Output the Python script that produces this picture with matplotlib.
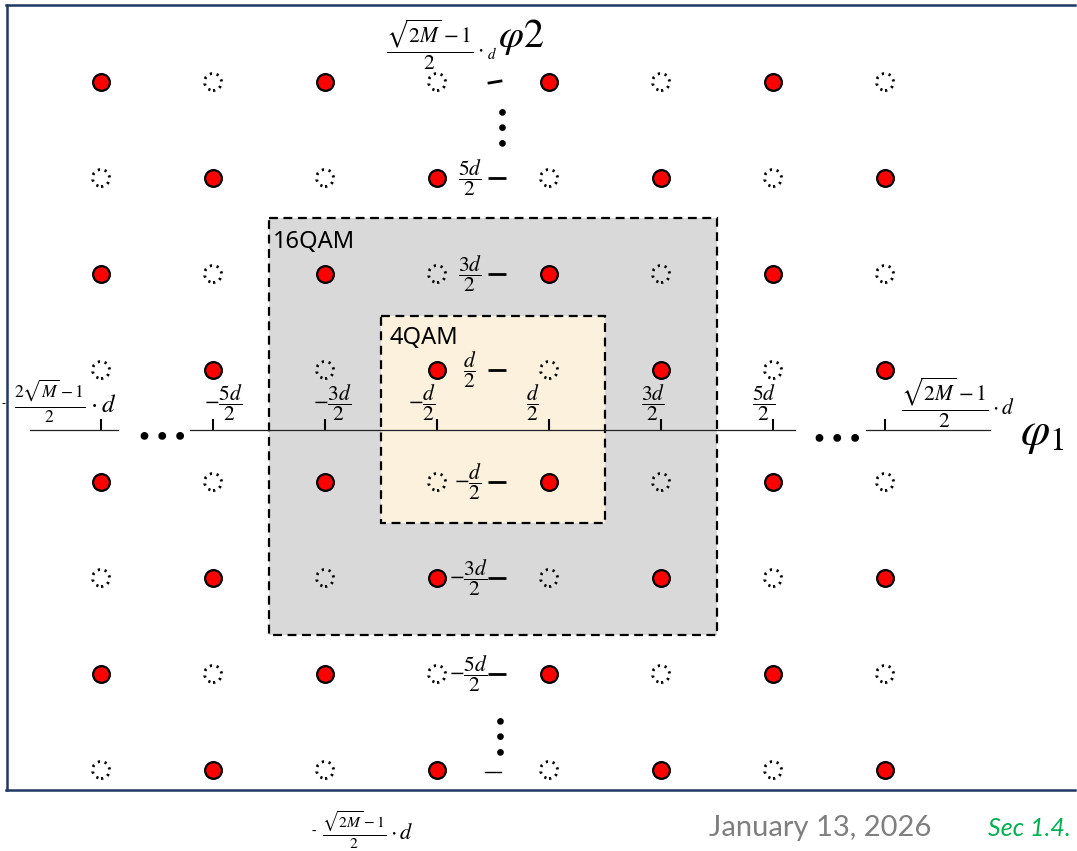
import numpy as np
import matplotlib
matplotlib.use('Agg')
import matplotlib.pyplot as plt
from matplotlib.patches import Rectangle
from matplotlib.transforms import Affine2D, blended_transform_factory

plt.rcParams['font.family'] = ['Noto Sans', 'DejaVu Sans']
plt.rcParams['mathtext.fontset'] = 'stix'

# 星座点电平（单位 d/2）
x_levels = [-7, -5, -3, -1, 1, 3, 5, 7]
y_levels = [7, 5, 3, 1, -1, -3, -5, -7]
# R = 实心红点, o = 虚线空心点（从上到下，从左到右）
pattern = [
    "RoRoRoRo",
    "oRoRoRoR",
    "RoRoRoRo",
    "oRoRoRoR",
    "RoRoRoRo",
    "oRoRoRoR",
    "RoRoRoRo",
    "oRoRoRoR",
]

# 坐标轴上的标签
x_tick_labels = [r'$-\dfrac{5d}{2}$', r'$-\dfrac{3d}{2}$', r'$-\dfrac{d}{2}$',
                 r'$\dfrac{d}{2}$', r'$\dfrac{3d}{2}$', r'$\dfrac{5d}{2}$']
x_tick_levels = [-5, -3, -1, 1, 3, 5]
x_label_shift = [10, 7, -15, -16, -8, -9]   # 标签相对刻度的水平偏移（像素）
y_tick_labels = [r'$\dfrac{5d}{2}$', r'$\dfrac{3d}{2}$', r'$\dfrac{d}{2}$',
                 r'$-\dfrac{d}{2}$', r'$-\dfrac{3d}{2}$', r'$-\dfrac{5d}{2}$']
y_tick_levels = [5, 3, 1, -1, -3, -5]

W, H = 1077, 851
fig = plt.figure(figsize=(W / 100, H / 100), dpi=100)
ax = fig.add_axes([0, 0, 1, 1])
ax.axis('off')


# 纵向在原点附近多留一点空隙
def fwd(y):
    y = np.asarray(y, dtype=float)
    return 48 * y + 8 * np.clip(y, -1, 1)


def inv(u):
    u = np.asarray(u, dtype=float)
    return np.where(np.abs(u) <= 56, u / 56, (u - 8 * np.sign(u)) / 48)


ax.set_yscale('function', functions=(fwd, inv))
ax.set_xlim(-493 / 56, (W - 493) / 56)
ax.set_ylim(float(inv(426 - H)), float(inv(426)))

# 像素坐标（左上角为原点），用于文字和装饰
pix = Affine2D().scale(1 / W, -1 / H).translate(0, 1) + fig.transFigure
bx = blended_transform_factory(ax.transData, pix)
by = blended_transform_factory(pix, ax.transData)

# 外框：上、左、下三条边（右边在画面外）
frame_kw = dict(transform=pix, color='#1f3864', lw=1.8, zorder=1)
ax.plot([6, W - 2], [5, 5], **frame_kw)
ax.plot([7, 7], [5, 790], **frame_kw)
ax.plot([6, W - 2], [790, 790], **frame_kw)

# 16QAM 和 4QAM 区域
ax.add_patch(Rectangle((-4, 218), 8, 417, transform=bx, facecolor='#d9d9d9',
                       edgecolor='black', lw=1.6, linestyle=(0, (4, 2.5)), zorder=1))
ax.add_patch(Rectangle((-2, 316), 4, 207, transform=bx, facecolor='#fbf1dd',
                       edgecolor='black', lw=1.6, linestyle=(0, (4, 2.5)), zorder=2))
ax.text(273, 242, '16QAM', transform=pix, fontsize=17, va='center', ha='left', zorder=3)
ax.text(390, 338, '4QAM', transform=pix, fontsize=17, va='center', ha='left', zorder=3)

# 星座点
red_x, red_y, hol_x, hol_y = [], [], [], []
for r, row in enumerate(pattern):
    for c, ch in enumerate(row):
        if ch == 'R':
            red_x.append(x_levels[c]); red_y.append(y_levels[r])
        else:
            hol_x.append(x_levels[c]); hol_y.append(y_levels[r])

ax.scatter(red_x, red_y, s=145, c='#ff0000', edgecolors='black', linewidths=1.6, zorder=5)
ax.scatter(hol_x, hol_y, s=150, facecolors='none', edgecolors='black', linewidths=2.0,
           linestyles=[(0, (0.8, 1.7))], zorder=5)

# 横轴（φ1）
for x0, x1 in [(30, 118), (190, 795), (866, 990)]:
    ax.plot([x0, x1], [430, 430], transform=pix, color='#222222', lw=0.9, zorder=4)
ax.vlines([-7] + x_tick_levels + [7], 419, 430, transform=bx, color='black', lw=1.5, zorder=4)
for lv, lab, sh in zip(x_tick_levels, x_tick_labels, x_label_shift):
    ax.text(lv + sh / 56, 403, lab, transform=bx, fontsize=15.5, ha='center', va='center',
            zorder=6)
ax.text(159, 434, r'$\cdots$', transform=pix, fontsize=44, ha='center', va='center')
ax.text(834, 436, r'$\cdots$', transform=pix, fontsize=44, ha='center', va='center')
ax.text(3, 404, '-', transform=pix, fontsize=9, ha='center', va='center')
ax.text(14, 401, r'$\frac{2\sqrt{M}-1}{2}\cdot d$', transform=pix, fontsize=18,
        ha='left', va='center')
ax.text(901, 403, r'$\dfrac{\sqrt{2M}-1}{2}\cdot d$', transform=pix, fontsize=15.5,
        ha='left', va='center')
ax.text(1020, 432, r'$\varphi_1$', transform=pix, fontsize=34, ha='left', va='center')

# 纵轴（φ2）
ax.hlines(y_tick_levels, 488, 506, transform=by, color='black', lw=2.0, zorder=4)
ax.plot([489, 501], [83, 81], transform=pix, color='black', lw=2.0, zorder=4)
ax.plot([485, 501], [772, 772], transform=pix, color='black', lw=1.0, zorder=4)
for lv, lab in zip(y_tick_levels, y_tick_labels):
    xc = 470 if lv > 0 else 468
    ax.text(xc, lv, lab, transform=by, fontsize=15.5, ha='center', va='center', zorder=6)
ax.text(497, 128, r'$\vdots$', transform=pix, fontsize=38, ha='center', va='center')
ax.text(495, 737, r'$\vdots$', transform=pix, fontsize=38, ha='center', va='center')
ax.text(386, 45, r'$\dfrac{\sqrt{2M}-1}{2}\cdot_{d}$', transform=pix, fontsize=15.5,
        ha='left', va='center')
ax.text(498, 37, r'$\varphi 2$', transform=pix, fontsize=29, ha='left', va='center')
ax.text(311, 832, '-', transform=pix, fontsize=10, ha='left', va='center')
ax.text(322, 830, r'$\frac{\sqrt{2M}-1}{2}\cdot d$', transform=pix, fontsize=16,
        ha='left', va='center')

# 页脚
ax.text(709, 836, 'January 13, 2026', transform=pix, fontsize=21, color='#7f7f7f',
        family=['Lato', 'DejaVu Sans'], ha='left', va='baseline')
ax.text(988, 836, 'Sec 1.4.', transform=pix, fontsize=18, color='#00b050',
        family=['Lato', 'DejaVu Sans'], style='italic', ha='left', va='baseline')

fig.savefig('out.png', dpi=100)
